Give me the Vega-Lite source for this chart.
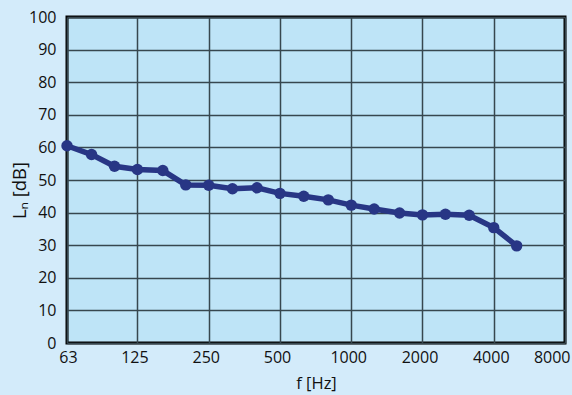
{
  "$schema": "https://vega.github.io/schema/vega-lite/v6.json",
  "width": 498,
  "height": 326,
  "autosize": {"type": "none"},
  "padding": {"left": 67, "top": 17, "right": 7, "bottom": 52},
  "background": "#d3ebfa",
  "config": {
    "view": {"fill": "#bee4f7", "stroke": "#000000", "strokeWidth": 3},
    "font": "Open Sans",
    "axis": {
      "labelFont": "Open Sans",
      "titleFont": "Open Sans",
      "labelFontSize": 16,
      "titleFontSize": 16.5,
      "labelColor": "#111111",
      "titleColor": "#111111",
      "titleFontWeight": "normal",
      "domain": false,
      "ticks": false,
      "gridColor": "#37474f",
      "gridWidth": 1.5,
      "gridOpacity": 1
    }
  },
  "data": {
    "values": [
      {"f": 63, "Ln": 60.5},
      {"f": 80, "Ln": 57.8},
      {"f": 100, "Ln": 54.2},
      {"f": 125, "Ln": 53.2},
      {"f": 160, "Ln": 52.9},
      {"f": 200, "Ln": 48.5},
      {"f": 250, "Ln": 48.4},
      {"f": 315, "Ln": 47.3},
      {"f": 400, "Ln": 47.6},
      {"f": 500, "Ln": 45.9},
      {"f": 630, "Ln": 45.0},
      {"f": 800, "Ln": 43.9},
      {"f": 1000, "Ln": 42.3},
      {"f": 1250, "Ln": 41.1},
      {"f": 1600, "Ln": 39.9},
      {"f": 2000, "Ln": 39.3},
      {"f": 2500, "Ln": 39.5},
      {"f": 3150, "Ln": 39.2},
      {"f": 4000, "Ln": 35.4},
      {"f": 5000, "Ln": 29.8}
    ]
  },
  "mark": {
    "type": "line",
    "color": "#283685",
    "strokeWidth": 5.5,
    "point": {"filled": true, "size": 130, "color": "#283685", "opacity": 1}
  },
  "encoding": {
    "x": {
      "field": "f",
      "type": "quantitative",
      "scale": {"type": "log", "base": 2, "domain": [63, 8000], "nice": false},
      "axis": {
        "values": [63, 125, 250, 500, 1000, 2000, 4000, 8000],
        "format": "d",
        "title": "f [Hz]",
        "labelPadding": 6,
        "titlePadding": 10,
        "labelFlush": false,
        "labelOverlap": false,
        "labelAlign": {"expr": "datum.value == 8000 ? 'right' : 'center'"},
        "labelOffset": {"expr": "datum.value == 8000 ? 5 : (datum.value == 63 ? 1 : -3)"}
      }
    },
    "y": {
      "field": "Ln",
      "type": "quantitative",
      "scale": {"domain": [0, 100], "nice": false},
      "axis": {
        "values": [0, 10, 20, 30, 40, 50, 60, 70, 80, 90, 100],
        "title": "Lₙ [dB]",
        "titleFontSize": 18.5,
        "labelPadding": 11,
        "titleX": -48,
        "titleY": 173,
        "titleAngle": -90,
        "titleAlign": "center",
        "titleBaseline": "middle"
      }
    }
  }
}
